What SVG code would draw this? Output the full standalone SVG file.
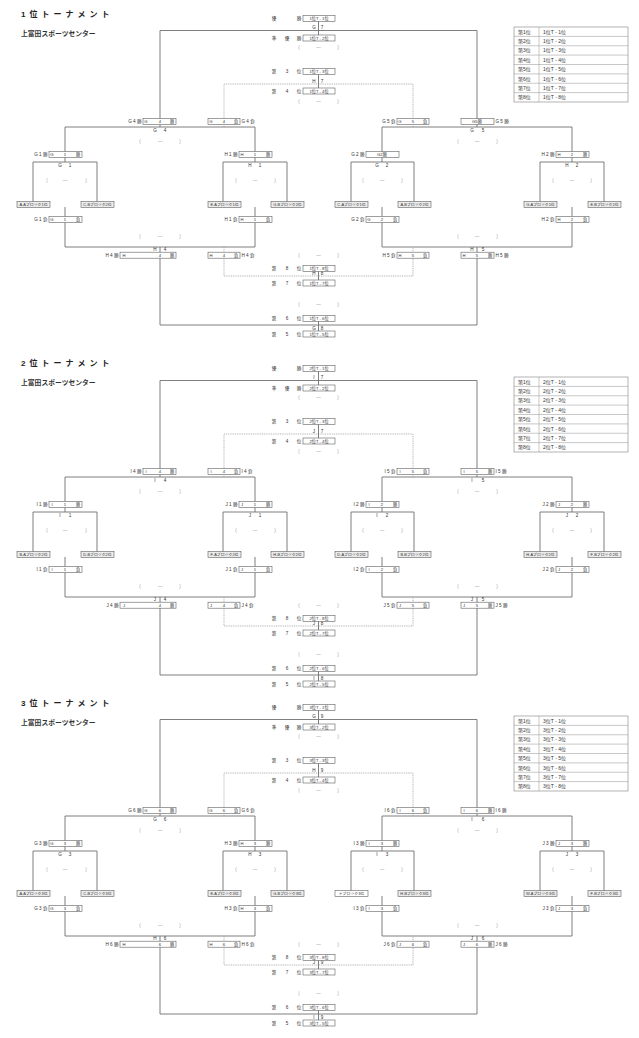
<svg xmlns="http://www.w3.org/2000/svg" width="639" height="1038" viewBox="0 0 639 1038">
<style>
.ln{fill:none;stroke:#707070;stroke-width:0.9}
.dl{fill:none;stroke:#a0a0a0;stroke-width:0.8;stroke-dasharray:1,0.8}
.bx{fill:#fff;stroke:#606060;stroke-width:0.6}
.lf{fill:#ececec;stroke:#606060;stroke-width:0.6}
.tb{fill:#fff;stroke:#808080;stroke-width:0.6}
.tl{fill:none;stroke:#909090;stroke-width:0.5}
text{font-family:"Liberation Sans","Noto Sans CJK JP",sans-serif;fill:#333}
.s{font-size:4.6px}
.b{font-size:4.2px}
.l{font-size:3.9px}
.c{text-anchor:middle}
.e{text-anchor:end}
.g{fill:#9a9a9a}
.ttl{font-size:8px;font-weight:bold;letter-spacing:4px;fill:#222}
.sub{font-size:6.8px;font-weight:bold;fill:#333}
.tt{font-size:5px}
</style>
<rect width="639" height="1038" fill="#fff"/>
<defs>
<g id="wires">
<path class="ln" d="M160,127V30.5H477V127"/>
<path class="ln" d="M65,162V127H255V162"/>
<path class="ln" d="M382,162V127H572V162"/>
<path class="ln" d="M33,202V162H97V202"/>
<path class="ln" d="M223,202V162H287V202"/>
<path class="ln" d="M351,202V162H414V202"/>
<path class="ln" d="M540,202V162H604V202"/>
<path class="ln" d="M65,207V247H255V207"/>
<path class="ln" d="M382,207V247H572V207"/>
<path class="ln" d="M160,247V325H477V247"/>
<path class="dl" d="M224,127V84H413V127"/>
<path class="dl" d="M224,247V276H413V247"/>
<path class="ln" d="M318.5,21V35M318.5,74V88M318.5,271V280M318.5,321V331"/>
</g>
<g id="tbl">
<rect class="tb" x="514" y="27" width="114" height="75"/>
<path class="tl" d="M539,27V102M514,36.4H628M514,45.75H628M514,55.1H628M514,64.5H628M514,73.9H628M514,83.25H628M514,92.6H628"/>
</g>
</defs>
<g id="connectors">
<use href="#wires"/>
<use href="#wires" y="350"/>
<use href="#wires" y="689"/>
</g>

<!-- ===== Section 1 ===== -->
<g id="sec1">
<g id="s1-title"><text class="ttl" x="21" y="17">1位トーナメント</text><text class="sub" x="21" y="36">上富田スポーツセンター</text></g>
<g id="s1-table"><use href="#tbl"/>
<text class="tt" x="518" y="33.7">第1位</text><text class="tt" x="543" y="33.7">1位T - 1位</text>
<text class="tt" x="518" y="43">第2位</text><text class="tt" x="543" y="43">1位T - 2位</text>
<text class="tt" x="518" y="52.4">第3位</text><text class="tt" x="543" y="52.4">1位T - 3位</text>
<text class="tt" x="518" y="61.8">第4位</text><text class="tt" x="543" y="61.8">1位T - 4位</text>
<text class="tt" x="518" y="71.1">第5位</text><text class="tt" x="543" y="71.1">1位T - 5位</text>
<text class="tt" x="518" y="80.5">第6位</text><text class="tt" x="543" y="80.5">1位T - 6位</text>
<text class="tt" x="518" y="89.9">第7位</text><text class="tt" x="543" y="89.9">1位T - 7位</text>
<text class="tt" x="518" y="99.3">第8位</text><text class="tt" x="543" y="99.3">1位T - 8位</text>
</g>
<g id="s1-p1"><text class="s c" x="274 299" y="20">優勝</text><rect class="bx" x="303" y="15.5" width="32" height="6"/><text class="b c" x="319" y="20">1位T - 1位</text></g>
<g id="s1-G7"><text class="s c" x="314 322" y="29">G7</text><text class="s c g" x="299 318.5 338" y="49">(—)</text></g>
<g id="s1-p2"><text class="s c" x="274 287 299" y="39.5">準優勝</text><rect class="bx" x="303" y="35" width="32" height="6"/><text class="b c" x="319" y="39.5">1位T - 2位</text></g>
<g id="s1-p3"><text class="s c" x="274 287 299" y="73">第3位</text><rect class="bx" x="303" y="68.5" width="32" height="6"/><text class="b c" x="319" y="73">1位T - 3位</text></g>
<g id="s1-H7"><text class="s c" x="314 322" y="82.5">H7</text><text class="s c g" x="299 318.5 338" y="103">(—)</text></g>
<g id="s1-p4"><text class="s c" x="274 287 299" y="92.5">第4位</text><rect class="bx" x="303" y="88" width="32" height="6"/><text class="b c" x="319" y="92.5">1位T - 4位</text></g>

<g id="s1-G4w"><text class="s e" x="141.5" y="123.2">G 4 勝</text><rect class="bx" x="143" y="118.5" width="33" height="6"/><text class="b c" x="146 160 172" y="123">G4勝</text></g>
<g id="s1-G4l"><rect class="bx" x="208" y="118.5" width="32" height="6"/><text class="b c" x="211 224 236" y="123">G4負</text><text class="s" x="241.5" y="123.2">G 4 負</text></g>
<g id="s1-G5l"><text class="s e" x="395.5" y="123.2">G 5 負</text><rect class="bx" x="397" y="118.5" width="32" height="6"/><text class="b c" x="400 413 425" y="123">G5負</text></g>
<g id="s1-G5w"><rect class="bx" x="461" y="118.5" width="33" height="6"/><text class="b c" x="477" y="123">G5勝</text><text class="s" x="495.5" y="123.2">G 5 勝</text></g>
<g id="s1-G4"><text class="s c" x="155 165" y="132">G4</text><text class="s c g" x="140 160 180" y="143">(—)</text></g>
<g id="s1-G5"><text class="s c" x="472 483" y="132">G5</text><text class="s c g" x="458 477 497" y="143">(—)</text></g>

<g id="s1-G1w"><text class="s e" x="47.5" y="156">G 1 勝</text><rect class="bx" x="49" y="151.5" width="33" height="6"/><text class="b c" x="52 65 78" y="156">G1勝</text></g>
<g id="s1-H1w"><text class="s e" x="237.5" y="156">H 1 勝</text><rect class="bx" x="239" y="151.5" width="33" height="6"/><text class="b c" x="242 255 268" y="156">H1勝</text></g>
<g id="s1-G2w"><text class="s e" x="364.5" y="156">G 2 勝</text><rect class="bx" x="366" y="151.5" width="33" height="6"/><text class="b c" x="382" y="156">G2勝</text></g>
<g id="s1-H2w"><text class="s e" x="554.5" y="156">H 2 勝</text><rect class="bx" x="556" y="151.5" width="33" height="6"/><text class="b c" x="559 572 585" y="156">H2勝</text></g>
<g id="s1-G1"><text class="s c" x="60 70" y="166.5">G1</text><text class="s c g" x="47 65 86" y="182">(—)</text></g>
<g id="s1-H1"><text class="s c" x="250 260" y="166.5">H1</text><text class="s c g" x="236 255 275" y="182">(—)</text></g>
<g id="s1-G2"><text class="s c" x="377 387" y="166.5">G2</text><text class="s c g" x="363 382 402" y="182">(—)</text></g>
<g id="s1-H2"><text class="s c" x="567 577" y="166.5">H2</text><text class="s c g" x="553 572 591" y="182">(—)</text></g>

<g id="s1-L1"><rect class="lf" x="17" y="201.5" width="33" height="6"/><text class="l c" x="33.5" y="205.9">A-Aブロック1位</text></g>
<g id="s1-L2"><rect class="lf" x="81" y="201.5" width="33" height="6"/><text class="l c" x="97.5" y="205.9">C-Bブロック2位</text></g>
<g id="s1-L3"><rect class="lf" x="208" y="201.5" width="33" height="6"/><text class="l c" x="224.5" y="205.9">E-Aブロック1位</text></g>
<g id="s1-L4"><rect class="lf" x="271" y="201.5" width="33" height="6"/><text class="l c" x="287.5" y="205.9">G-Bブロック2位</text></g>
<g id="s1-L5"><rect class="lf" x="335" y="201.5" width="33" height="6"/><text class="l c" x="351.5" y="205.9">C-Aブロック1位</text></g>
<g id="s1-L6"><rect class="lf" x="398" y="201.5" width="33" height="6"/><text class="l c" x="414.5" y="205.9">A-Bブロック2位</text></g>
<g id="s1-L7"><rect class="lf" x="524" y="201.5" width="33" height="6"/><text class="l c" x="540.5" y="205.9">G-Aブロック1位</text></g>
<g id="s1-L8"><rect class="lf" x="588" y="201.5" width="33" height="6"/><text class="l c" x="604.5" y="205.9">E-Bブロック2位</text></g>

<g id="s1-G1l"><text class="s e" x="47.5" y="221">G 1 負</text><rect class="bx" x="49" y="216.5" width="33" height="6"/><text class="b c" x="52 65 78" y="221">G1負</text></g>
<g id="s1-H1l"><text class="s e" x="237.5" y="221">H 1 負</text><rect class="bx" x="239" y="216.5" width="33" height="6"/><text class="b c" x="242 255 268" y="221">H1負</text></g>
<g id="s1-G2l"><text class="s e" x="364.5" y="221">G 2 負</text><rect class="bx" x="366" y="216.5" width="33" height="6"/><text class="b c" x="369 382 395" y="221">G2負</text></g>
<g id="s1-H2l"><text class="s e" x="554.5" y="221">H 2 負</text><rect class="bx" x="556" y="216.5" width="33" height="6"/><text class="b c" x="559 572 585" y="221">H2負</text></g>
<g id="s1-H4"><text class="s c g" x="140 160 180" y="237.5">(—)</text><text class="s c" x="155 165" y="251">H4</text></g>
<g id="s1-H5"><text class="s c g" x="458 477 497" y="237.5">(—)</text><text class="s c" x="472 483" y="251">H5</text></g>
<g id="s1-H4w"><text class="s e" x="118.5" y="256.7">H 4 勝</text><rect class="bx" x="120" y="252.2" width="56" height="6"/><text class="b c" x="124 160 172" y="256.5">H4勝</text></g>
<g id="s1-H4l"><rect class="bx" x="208" y="252.2" width="32" height="6"/><text class="b c" x="211 224 236" y="256.5">H4負</text><text class="s" x="241.5" y="256.7">H 4 負</text></g>
<g id="s1-H5l"><text class="s e" x="395.5" y="256.7">H 5 負</text><rect class="bx" x="397" y="252.2" width="32" height="6"/><text class="b c" x="400 413 425" y="256.5">H5負</text></g>
<g id="s1-H5w"><rect class="bx" x="461" y="252.2" width="33" height="6"/><text class="b c" x="464 477 490" y="256.5">H5勝</text><text class="s" x="495.5" y="256.7">H 5 勝</text></g>
<g id="s1-H8"><text class="s c g" x="299 318.5 338" y="256.7">(—)</text><text class="s c" x="314 322" y="275">H8</text></g>
<g id="s1-p8"><text class="s c" x="274 287 299" y="270">第8位</text><rect class="bx" x="303" y="265.5" width="32" height="6"/><text class="b c" x="319" y="270">1位T - 8位</text></g>
<g id="s1-p7"><text class="s c" x="274 287 299" y="284.5">第7位</text><rect class="bx" x="303" y="280" width="32" height="6"/><text class="b c" x="319" y="284.5">1位T - 7位</text></g>
<g id="s1-G8"><text class="s c g" x="299 318.5 338" y="306">(—)</text><text class="s c" x="314 322" y="329.5">G8</text></g>
<g id="s1-p6"><text class="s c" x="274 287 299" y="320">第6位</text><rect class="bx" x="303" y="315.5" width="32" height="6"/><text class="b c" x="319" y="320">1位T - 6位</text></g>
<g id="s1-p5"><text class="s c" x="274 287 299" y="335.5">第5位</text><rect class="bx" x="303" y="331" width="32" height="6"/><text class="b c" x="319" y="335.5">1位T - 5位</text></g>
</g>

<!-- ===== Section 2 ===== -->
<g id="sec2" transform="translate(0,350)">
<g id="s2-title"><text class="ttl" x="21" y="16">2位トーナメント</text><text class="sub" x="21" y="35">上富田スポーツセンター</text></g>
<g id="s2-table"><use href="#tbl"/>
<text class="tt" x="518" y="33.7">第1位</text><text class="tt" x="543" y="33.7">2位T - 1位</text>
<text class="tt" x="518" y="43">第2位</text><text class="tt" x="543" y="43">2位T - 2位</text>
<text class="tt" x="518" y="52.4">第3位</text><text class="tt" x="543" y="52.4">2位T - 3位</text>
<text class="tt" x="518" y="61.8">第4位</text><text class="tt" x="543" y="61.8">2位T - 4位</text>
<text class="tt" x="518" y="71.1">第5位</text><text class="tt" x="543" y="71.1">2位T - 5位</text>
<text class="tt" x="518" y="80.5">第6位</text><text class="tt" x="543" y="80.5">2位T - 6位</text>
<text class="tt" x="518" y="89.9">第7位</text><text class="tt" x="543" y="89.9">2位T - 7位</text>
<text class="tt" x="518" y="99.3">第8位</text><text class="tt" x="543" y="99.3">2位T - 8位</text>
</g>
<g id="s2-p1"><text class="s c" x="274 299" y="20">優勝</text><rect class="bx" x="303" y="15.5" width="32" height="6"/><text class="b c" x="319" y="20">2位T - 1位</text></g>
<g id="s2-I7"><text class="s c" x="314 322" y="29">I7</text><text class="s c g" x="299 318.5 338" y="49">(—)</text></g>
<g id="s2-p2"><text class="s c" x="274 287 299" y="39.5">準優勝</text><rect class="bx" x="303" y="35" width="32" height="6"/><text class="b c" x="319" y="39.5">2位T - 2位</text></g>
<g id="s2-p3"><text class="s c" x="274 287 299" y="73">第3位</text><rect class="bx" x="303" y="68.5" width="32" height="6"/><text class="b c" x="319" y="73">2位T - 3位</text></g>
<g id="s2-J7"><text class="s c" x="314 322" y="82.5">J7</text><text class="s c g" x="299 318.5 338" y="103">(—)</text></g>
<g id="s2-p4"><text class="s c" x="274 287 299" y="92.5">第4位</text><rect class="bx" x="303" y="88" width="32" height="6"/><text class="b c" x="319" y="92.5">2位T - 4位</text></g>

<g id="s2-I4w"><text class="s e" x="141.5" y="123.2">I 4 勝</text><rect class="bx" x="143" y="118.5" width="33" height="6"/><text class="b c" x="146 160 172" y="123">I4勝</text></g>
<g id="s2-I4l"><rect class="bx" x="208" y="118.5" width="32" height="6"/><text class="b c" x="211 224 236" y="123">I4負</text><text class="s" x="241.5" y="123.2">I 4 負</text></g>
<g id="s2-I5l"><text class="s e" x="395.5" y="123.2">I 5 負</text><rect class="bx" x="397" y="118.5" width="32" height="6"/><text class="b c" x="400 413 425" y="123">I5負</text></g>
<g id="s2-I5w"><rect class="bx" x="461" y="118.5" width="33" height="6"/><text class="b c" x="464 477 490" y="123">I5勝</text><text class="s" x="495.5" y="123.2">I 5 勝</text></g>
<g id="s2-I4"><text class="s c" x="155 165" y="132">I4</text><text class="s c g" x="140 160 180" y="143">(—)</text></g>
<g id="s2-I5"><text class="s c" x="472 483" y="132">I5</text><text class="s c g" x="458 477 497" y="143">(—)</text></g>

<g id="s2-I1w"><text class="s e" x="47.5" y="156">I 1 勝</text><rect class="bx" x="49" y="151.5" width="33" height="6"/><text class="b c" x="52 65 78" y="156">I1勝</text></g>
<g id="s2-J1w"><text class="s e" x="237.5" y="156">J 1 勝</text><rect class="bx" x="239" y="151.5" width="33" height="6"/><text class="b c" x="242 255 268" y="156">J1勝</text></g>
<g id="s2-I2w"><text class="s e" x="364.5" y="156">I 2 勝</text><rect class="bx" x="366" y="151.5" width="33" height="6"/><text class="b c" x="369 382 395" y="156">I2勝</text></g>
<g id="s2-J2w"><text class="s e" x="554.5" y="156">J 2 勝</text><rect class="bx" x="556" y="151.5" width="33" height="6"/><text class="b c" x="559 572 585" y="156">J2勝</text></g>
<g id="s2-I1"><text class="s c" x="60 70" y="166.5">I1</text><text class="s c g" x="47 65 86" y="182">(—)</text></g>
<g id="s2-J1"><text class="s c" x="250 260" y="166.5">J1</text><text class="s c g" x="236 255 275" y="182">(—)</text></g>
<g id="s2-I2"><text class="s c" x="377 387" y="166.5">I2</text><text class="s c g" x="363 382 402" y="182">(—)</text></g>
<g id="s2-J2"><text class="s c" x="567 577" y="166.5">J2</text><text class="s c g" x="553 572 591" y="182">(—)</text></g>

<g id="s2-L1"><rect class="lf" x="17" y="201.5" width="33" height="6"/><text class="l c" x="33.5" y="205.9">B-Aブロック2位</text></g>
<g id="s2-L2"><rect class="lf" x="81" y="201.5" width="33" height="6"/><text class="l c" x="97.5" y="205.9">D-Bブロック2位</text></g>
<g id="s2-L3"><rect class="lf" x="208" y="201.5" width="33" height="6"/><text class="l c" x="224.5" y="205.9">F-Aブロック2位</text></g>
<g id="s2-L4"><rect class="lf" x="271" y="201.5" width="33" height="6"/><text class="l c" x="287.5" y="205.9">H-Bブロック2位</text></g>
<g id="s2-L5"><rect class="lf" x="335" y="201.5" width="33" height="6"/><text class="l c" x="351.5" y="205.9">D-Aブロック2位</text></g>
<g id="s2-L6"><rect class="lf" x="398" y="201.5" width="33" height="6"/><text class="l c" x="414.5" y="205.9">B-Bブロック2位</text></g>
<g id="s2-L7"><rect class="lf" x="524" y="201.5" width="33" height="6"/><text class="l c" x="540.5" y="205.9">H-Aブロック2位</text></g>
<g id="s2-L8"><rect class="lf" x="588" y="201.5" width="33" height="6"/><text class="l c" x="604.5" y="205.9">F-Bブロック2位</text></g>

<g id="s2-I1l"><text class="s e" x="47.5" y="221">I 1 負</text><rect class="bx" x="49" y="216.5" width="33" height="6"/><text class="b c" x="52 65 78" y="221">I1負</text></g>
<g id="s2-J1l"><text class="s e" x="237.5" y="221">J 1 負</text><rect class="bx" x="239" y="216.5" width="33" height="6"/><text class="b c" x="242 255 268" y="221">J1負</text></g>
<g id="s2-I2l"><text class="s e" x="364.5" y="221">I 2 負</text><rect class="bx" x="366" y="216.5" width="33" height="6"/><text class="b c" x="369 382 395" y="221">I2負</text></g>
<g id="s2-J2l"><text class="s e" x="554.5" y="221">J 2 負</text><rect class="bx" x="556" y="216.5" width="33" height="6"/><text class="b c" x="559 572 585" y="221">J2負</text></g>
<g id="s2-J4"><text class="s c g" x="140 160 180" y="237.5">(—)</text><text class="s c" x="155 165" y="251">J4</text></g>
<g id="s2-J5"><text class="s c g" x="458 477 497" y="237.5">(—)</text><text class="s c" x="472 483" y="251">J5</text></g>
<g id="s2-J4w"><text class="s e" x="118.5" y="256.7">J 4 勝</text><rect class="bx" x="120" y="252.2" width="56" height="6"/><text class="b c" x="124 160 172" y="256.5">J4勝</text></g>
<g id="s2-J4l"><rect class="bx" x="208" y="252.2" width="32" height="6"/><text class="b c" x="211 224 236" y="256.5">J4負</text><text class="s" x="241.5" y="256.7">J 4 負</text></g>
<g id="s2-J5l"><text class="s e" x="395.5" y="256.7">J 5 負</text><rect class="bx" x="397" y="252.2" width="32" height="6"/><text class="b c" x="400 413 425" y="256.5">J5負</text></g>
<g id="s2-J5w"><rect class="bx" x="461" y="252.2" width="33" height="6"/><text class="b c" x="464 477 490" y="256.5">J5勝</text><text class="s" x="495.5" y="256.7">J 5 勝</text></g>
<g id="s2-J8"><text class="s c g" x="299 318.5 338" y="256.7">(—)</text><text class="s c" x="314 322" y="275">J8</text></g>
<g id="s2-p8"><text class="s c" x="274 287 299" y="270">第8位</text><rect class="bx" x="303" y="265.5" width="32" height="6"/><text class="b c" x="319" y="270">2位T - 8位</text></g>
<g id="s2-p7"><text class="s c" x="274 287 299" y="284.5">第7位</text><rect class="bx" x="303" y="280" width="32" height="6"/><text class="b c" x="319" y="284.5">2位T - 7位</text></g>
<g id="s2-I8"><text class="s c g" x="299 318.5 338" y="306">(—)</text><text class="s c" x="314 322" y="329.5">I8</text></g>
<g id="s2-p6"><text class="s c" x="274 287 299" y="320">第6位</text><rect class="bx" x="303" y="315.5" width="32" height="6"/><text class="b c" x="319" y="320">2位T - 6位</text></g>
<g id="s2-p5"><text class="s c" x="274 287 299" y="335.5">第5位</text><rect class="bx" x="303" y="331" width="32" height="6"/><text class="b c" x="319" y="335.5">2位T - 5位</text></g>
</g>

<!-- ===== Section 3 ===== -->
<g id="sec3" transform="translate(0,689)">
<g id="s3-title"><text class="ttl" x="21" y="17">3位トーナメント</text><text class="sub" x="21" y="36">上富田スポーツセンター</text></g>
<g id="s3-table"><use href="#tbl"/>
<text class="tt" x="518" y="33.7">第1位</text><text class="tt" x="543" y="33.7">3位T - 1位</text>
<text class="tt" x="518" y="43">第2位</text><text class="tt" x="543" y="43">3位T - 2位</text>
<text class="tt" x="518" y="52.4">第3位</text><text class="tt" x="543" y="52.4">3位T - 3位</text>
<text class="tt" x="518" y="61.8">第4位</text><text class="tt" x="543" y="61.8">3位T - 4位</text>
<text class="tt" x="518" y="71.1">第5位</text><text class="tt" x="543" y="71.1">3位T - 5位</text>
<text class="tt" x="518" y="80.5">第6位</text><text class="tt" x="543" y="80.5">3位T - 6位</text>
<text class="tt" x="518" y="89.9">第7位</text><text class="tt" x="543" y="89.9">3位T - 7位</text>
<text class="tt" x="518" y="99.3">第8位</text><text class="tt" x="543" y="99.3">3位T - 8位</text>
</g>
<g id="s3-p1"><text class="s c" x="274 299" y="20">優勝</text><rect class="bx" x="303" y="15.5" width="32" height="6"/><text class="b c" x="319" y="20">3位T - 1位</text></g>
<g id="s3-G9"><text class="s c" x="314 322" y="29">G9</text><text class="s c g" x="299 318.5 338" y="49">(—)</text></g>
<g id="s3-p2"><text class="s c" x="274 287 299" y="39.5">準優勝</text><rect class="bx" x="303" y="35" width="32" height="6"/><text class="b c" x="319" y="39.5">3位T - 2位</text></g>
<g id="s3-p3"><text class="s c" x="274 287 299" y="73">第3位</text><rect class="bx" x="303" y="68.5" width="32" height="6"/><text class="b c" x="319" y="73">3位T - 3位</text></g>
<g id="s3-H9"><text class="s c" x="314 322" y="82.5">H9</text><text class="s c g" x="299 318.5 338" y="103">(—)</text></g>
<g id="s3-p4"><text class="s c" x="274 287 299" y="92.5">第4位</text><rect class="bx" x="303" y="88" width="32" height="6"/><text class="b c" x="319" y="92.5">3位T - 4位</text></g>

<g id="s3-G6w"><text class="s e" x="141.5" y="123.2">G 6 勝</text><rect class="bx" x="143" y="118.5" width="33" height="6"/><text class="b c" x="146 160 172" y="123">G6勝</text></g>
<g id="s3-G6l"><rect class="bx" x="208" y="118.5" width="32" height="6"/><text class="b c" x="211 224 236" y="123">G6負</text><text class="s" x="241.5" y="123.2">G 6 負</text></g>
<g id="s3-I6l"><text class="s e" x="395.5" y="123.2">I 6 負</text><rect class="bx" x="397" y="118.5" width="32" height="6"/><text class="b c" x="400 413 425" y="123">I6負</text></g>
<g id="s3-I6w"><rect class="bx" x="461" y="118.5" width="33" height="6"/><text class="b c" x="464 477 490" y="123">I6勝</text><text class="s" x="495.5" y="123.2">I 6 勝</text></g>
<g id="s3-G6"><text class="s c" x="155 165" y="132">G6</text><text class="s c g" x="140 160 180" y="143">(—)</text></g>
<g id="s3-I6"><text class="s c" x="472 483" y="132">I6</text><text class="s c g" x="458 477 497" y="143">(—)</text></g>

<g id="s3-G3w"><text class="s e" x="47.5" y="156">G 3 勝</text><rect class="bx" x="49" y="151.5" width="33" height="6"/><text class="b c" x="52 65 78" y="156">G3勝</text></g>
<g id="s3-H3w"><text class="s e" x="237.5" y="156">H 3 勝</text><rect class="bx" x="239" y="151.5" width="33" height="6"/><text class="b c" x="242 255 268" y="156">H3勝</text></g>
<g id="s3-I3w"><text class="s e" x="364.5" y="156">I 3 勝</text><rect class="bx" x="366" y="151.5" width="33" height="6"/><text class="b c" x="369 382 395" y="156">I3勝</text></g>
<g id="s3-J3w"><text class="s e" x="554.5" y="156">J 3 勝</text><rect class="bx" x="556" y="151.5" width="33" height="6"/><text class="b c" x="559 572 585" y="156">J3勝</text></g>
<g id="s3-G3"><text class="s c" x="60 70" y="166.5">G3</text><text class="s c g" x="47 65 86" y="182">(—)</text></g>
<g id="s3-H3"><text class="s c" x="250 260" y="166.5">H3</text><text class="s c g" x="236 255 275" y="182">(—)</text></g>
<g id="s3-I3"><text class="s c" x="377 387" y="166.5">I3</text><text class="s c g" x="363 382 402" y="182">(—)</text></g>
<g id="s3-J3"><text class="s c" x="567 577" y="166.5">J3</text><text class="s c g" x="553 572 591" y="182">(—)</text></g>

<g id="s3-L1"><rect class="lf" x="17" y="201.5" width="33" height="6"/><text class="l c" x="33.5" y="205.9">A-Aブロック3位</text></g>
<g id="s3-L2"><rect class="lf" x="81" y="201.5" width="33" height="6"/><text class="l c" x="97.5" y="205.9">C-Bブロック3位</text></g>
<g id="s3-L3"><rect class="lf" x="208" y="201.5" width="33" height="6"/><text class="l c" x="224.5" y="205.9">E-Aブロック3位</text></g>
<g id="s3-L4"><rect class="lf" x="271" y="201.5" width="33" height="6"/><text class="l c" x="287.5" y="205.9">G-Bブロック3位</text></g>
<g id="s3-L5"><rect class="bx" x="335" y="201.5" width="33" height="6"/><text class="l c" x="351.5" y="205.9">ナブロック3位</text></g>
<g id="s3-L6"><rect class="lf" x="398" y="201.5" width="33" height="6"/><text class="l c" x="414.5" y="205.9">H-Bブロック3位</text></g>
<g id="s3-L7"><rect class="lf" x="524" y="201.5" width="33" height="6"/><text class="l c" x="540.5" y="205.9">W-Aブロック3位</text></g>
<g id="s3-L8"><rect class="lf" x="588" y="201.5" width="33" height="6"/><text class="l c" x="604.5" y="205.9">F-Bブロック3位</text></g>

<g id="s3-G3l"><text class="s e" x="47.5" y="221">G 3 負</text><rect class="bx" x="49" y="216.5" width="33" height="6"/><text class="b c" x="52 65 78" y="221">G3負</text></g>
<g id="s3-H3l"><text class="s e" x="237.5" y="221">H 3 負</text><rect class="bx" x="239" y="216.5" width="33" height="6"/><text class="b c" x="242 255 268" y="221">H3負</text></g>
<g id="s3-I3l"><text class="s e" x="364.5" y="221">I 3 負</text><rect class="bx" x="366" y="216.5" width="33" height="6"/><text class="b c" x="369 382 395" y="221">I3負</text></g>
<g id="s3-J3l"><text class="s e" x="554.5" y="221">J 3 負</text><rect class="bx" x="556" y="216.5" width="33" height="6"/><text class="b c" x="559 572 585" y="221">J3負</text></g>
<g id="s3-H6"><text class="s c g" x="140 160 180" y="237.5">(—)</text><text class="s c" x="155 165" y="251">H6</text></g>
<g id="s3-J6"><text class="s c g" x="458 477 497" y="237.5">(—)</text><text class="s c" x="472 483" y="251">J6</text></g>
<g id="s3-H6w"><text class="s e" x="118.5" y="256.7">H 6 勝</text><rect class="bx" x="120" y="252.2" width="56" height="6"/><text class="b c" x="124 160 172" y="256.5">H6勝</text></g>
<g id="s3-H6l"><rect class="bx" x="208" y="252.2" width="32" height="6"/><text class="b c" x="211 224 236" y="256.5">H6負</text><text class="s" x="241.5" y="256.7">H 6 負</text></g>
<g id="s3-J6l"><text class="s e" x="395.5" y="256.7">J 6 負</text><rect class="bx" x="397" y="252.2" width="32" height="6"/><text class="b c" x="400 413 425" y="256.5">J6負</text></g>
<g id="s3-J6w"><rect class="bx" x="461" y="252.2" width="33" height="6"/><text class="b c" x="464 477 490" y="256.5">J6勝</text><text class="s" x="495.5" y="256.7">J 6 勝</text></g>
<g id="s3-J9"><text class="s c g" x="299 318.5 338" y="256.7">(—)</text><text class="s c" x="314 322" y="275">J9</text></g>
<g id="s3-p8"><text class="s c" x="274 287 299" y="270">第8位</text><rect class="bx" x="303" y="265.5" width="32" height="6"/><text class="b c" x="319" y="270">3位T - 8位</text></g>
<g id="s3-p7"><text class="s c" x="274 287 299" y="284.5">第7位</text><rect class="bx" x="303" y="280" width="32" height="6"/><text class="b c" x="319" y="284.5">3位T - 7位</text></g>
<g id="s3-I9"><text class="s c g" x="299 318.5 338" y="306">(—)</text><text class="s c" x="314 322" y="329.5">I9</text></g>
<g id="s3-p6"><text class="s c" x="274 287 299" y="320">第6位</text><rect class="bx" x="303" y="315.5" width="32" height="6"/><text class="b c" x="319" y="320">3位T - 6位</text></g>
<g id="s3-p5"><text class="s c" x="274 287 299" y="335.5">第5位</text><rect class="bx" x="303" y="331" width="32" height="6"/><text class="b c" x="319" y="335.5">3位T - 5位</text></g>
</g>
</svg>
